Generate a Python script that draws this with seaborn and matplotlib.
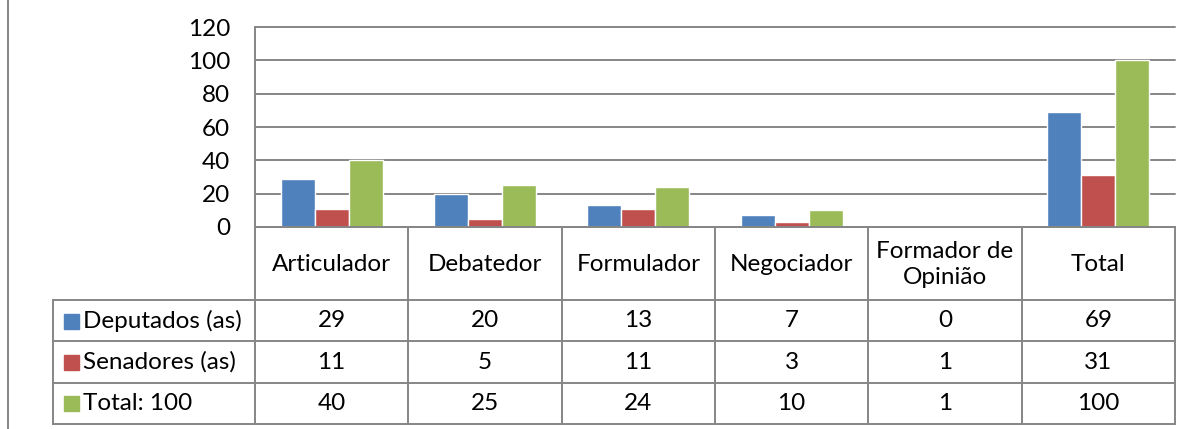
import numpy as np
import pandas as pd
import matplotlib
matplotlib.use("Agg")
import matplotlib.pyplot as plt
from matplotlib.lines import Line2D
import seaborn as sns

# --- data ---
categories = ["Articulador", "Debatedor", "Formulador", "Negociador",
              "Formador de\nOpinião", "Total"]
series = ["Deputados (as)", "Senadores (as)", "Total: 100"]
deputados = [29, 20, 13, 7, 0, 69]
senadores = [11, 5, 11, 3, 1, 31]
totais = [40, 25, 24, 10, 1, 100]
colors = ["#4F81BD", "#C0504D", "#9BBB59"]
yticks = [0, 20, 40, 60, 80, 100, 120]

values = [deputados, senadores, totais]
rows = []
for s, vals in zip(series, values):
    for c, v in zip(categories, vals):
        rows.append({"categoria": c, "serie": s, "valor": v})
df = pd.DataFrame(rows)

sns.set_theme(style="white")
plt.rcParams["font.family"] = ["Lato", "DejaVu Sans"]

W, H = 1190, 429
FS = 17.5
GRAY = "#868686"
LW = 1.4


def px_box(x0, y0, x1, y1):
    return [x0 / W, 1 - y1 / H, (x1 - x0) / W, (y1 - y0) / H]


fig = plt.figure(figsize=(W / 100, H / 100), dpi=100)

# --- bar chart ---
ax = fig.add_axes(px_box(255, 27, 1175, 227))
sns.barplot(data=df, x="categoria", y="valor", hue="serie",
            order=categories, hue_order=series, palette=colors,
            saturation=1, width=0.667, errorbar=None, legend=False, ax=ax)
ax.set_xlim(-0.5, 5.5)
ax.set_ylim(0, 120)
ax.set_yticks(yticks)
ax.set_xticks([])
ax.set_xlabel("")
ax.set_ylabel("")
ax.set_axisbelow(True)
ax.yaxis.grid(True, color=GRAY, lw=LW)
for side in ["top", "right", "bottom"]:
    ax.spines[side].set_visible(False)
ax.spines["left"].set_color(GRAY)
ax.spines["left"].set_linewidth(LW)
ax.tick_params(axis="y", length=0, pad=18, labelsize=FS, labelcolor="black")
for gl in ax.get_ygridlines():
    gl.set_clip_on(False)

# --- data table ---
col_w = 920 / 6
label_w = (255 - 53) / col_w
x_left = -0.5 - label_w
header_h = 73
row_h = 41.3
edges = [0, header_h] + [header_h + row_h * (i + 1) for i in range(3)]

ax_t = fig.add_axes(px_box(53, 227, 1175, 424))
ax_t.set_xlim(x_left, 5.5)
ax_t.set_ylim(edges[-1], 0)
ax_t.axis("off")

line_kw = dict(color=GRAY, lw=LW, clip_on=False, solid_capstyle="projecting")
ax_t.plot([-0.5, 5.5], [0, 0], **line_kw)
for y in edges[1:]:
    ax_t.plot([x_left, 5.5], [y, y], **line_kw)
for i in range(7):
    ax_t.plot([-0.5 + i, -0.5 + i], [0, edges[-1]], **line_kw)
ax_t.plot([x_left, x_left], [header_h, edges[-1]], **line_kw)

for i, c in enumerate(categories):
    ax_t.text(i, header_h / 2 + 1, c, ha="center", va="center",
              fontsize=FS, color="black", linespacing=1.3)

for r, (s, vals, col) in enumerate(zip(series, values, colors)):
    yc = (edges[r + 1] + edges[r + 2]) / 2
    ax_t.plot([x_left + 17.5 / col_w], [yc], marker="s", ms=10.8,
              color=col, ls="none", clip_on=False)
    ax_t.text(x_left + 30 / col_w, yc, s, ha="left", va="center",
              fontsize=FS, color="black")
    for i, v in enumerate(vals):
        ax_t.text(i, yc, str(v), ha="center", va="center",
                  fontsize=FS, color="black")

# outer chart border on the left
fig.add_artist(Line2D([8.4 / W, 8.4 / W], [0, 1], color=GRAY, lw=LW))

fig.savefig("out.png", dpi=100)
